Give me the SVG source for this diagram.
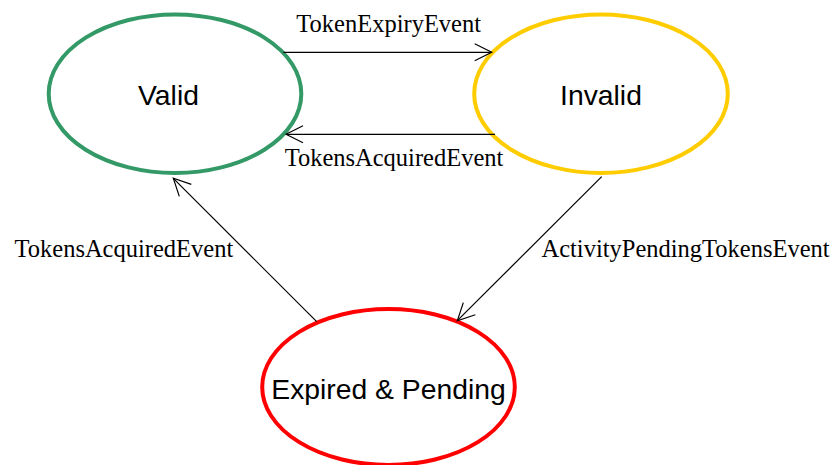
<svg xmlns="http://www.w3.org/2000/svg" width="832" height="465" viewBox="0 0 832 465">
<style>
.state{fill:#ffffff;stroke-width:4}
.name{font-family:"Liberation Sans",Arial,sans-serif;font-size:28.3px;fill:#000;text-anchor:middle}
.edge{stroke:#000;stroke-width:1.2;fill:none;marker-end:url(#open)}
.lbl{font-family:"Liberation Serif","Times New Roman",serif;font-size:24.5px;fill:#000}
</style>
<defs>
<marker id="open" markerUnits="userSpaceOnUse" markerWidth="24" markerHeight="24" viewBox="-20 -12 24 24" refX="0" refY="0" orient="auto">
<path d="M-17,-8.5 L0,0 L-17,8.5" fill="none" stroke="#000" stroke-width="1.2"/>
</marker>
</defs>
<rect width="832" height="465" fill="#ffffff"/>
<g id="valid">
<ellipse class="state" cx="175" cy="93.7" rx="126.3" ry="79.3" stroke="#339966"/>
<text class="name" x="168.5" y="105">Valid</text>
</g>
<g id="invalid">
<ellipse class="state" cx="601" cy="93.7" rx="126.8" ry="79.3" stroke="#ffcc00"/>
<text class="name" x="601" y="105">Invalid</text>
</g>
<g id="expired">
<ellipse class="state" cx="388.5" cy="387" rx="126.3" ry="78" stroke="#ff0000"/>
<text class="name" x="388.5" y="399">Expired &amp; Pending</text>
</g>
<g id="connectors">
<line class="edge" x1="283.3" y1="52.3" x2="491.7" y2="52.3"/>
<line class="edge" x1="495" y1="134.3" x2="286" y2="134.3"/>
<line class="edge" x1="316.7" y1="321.7" x2="173.3" y2="178.3"/>
<line class="edge" x1="601.7" y1="176.7" x2="457.3" y2="320.7"/>
<text class="lbl" x="388.7" y="31.5" text-anchor="middle">TokenExpiryEvent</text>
<text class="lbl" x="394" y="166" text-anchor="middle">TokensAcquiredEvent</text>
<text class="lbl" x="14.5" y="257">TokensAcquiredEvent</text>
<text class="lbl" x="541.5" y="257">ActivityPendingTokensEvent</text>
</g>
</svg>
